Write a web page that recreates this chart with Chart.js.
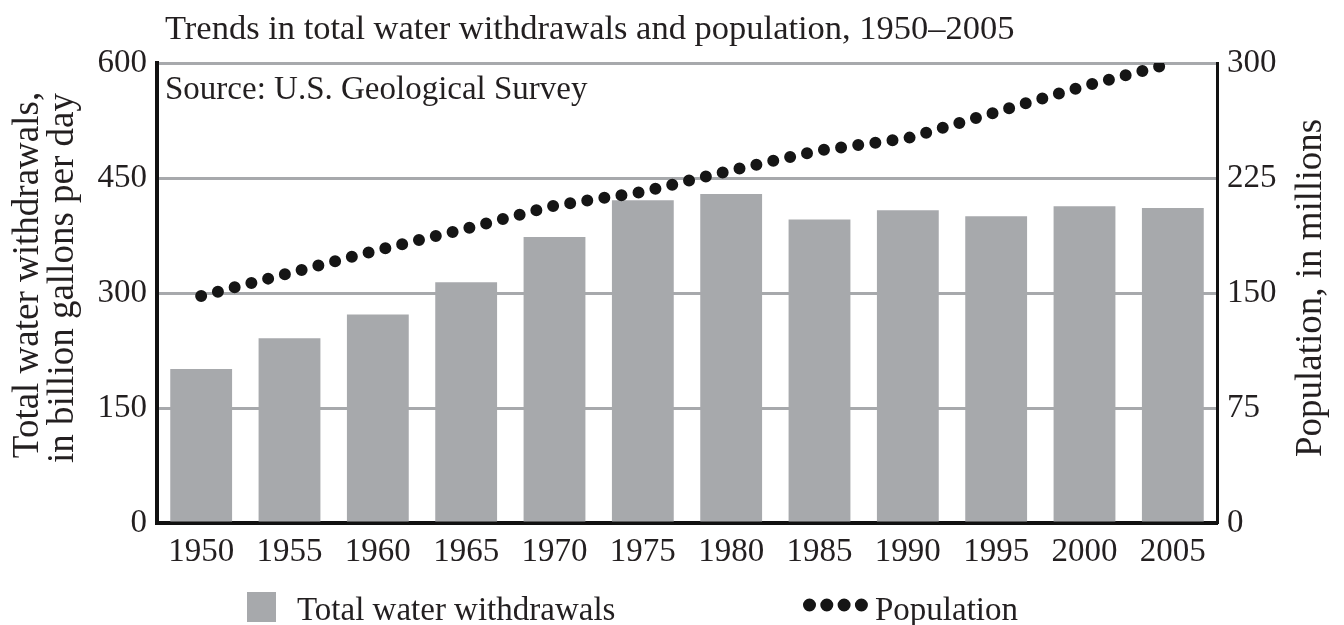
<!DOCTYPE html>
<html>
<head>
<meta charset="utf-8">
<title>Water withdrawals and population</title>
<script src="https://cdn.jsdelivr.net/npm/chart.js@4.4.1/dist/chart.umd.min.js"></script>
<style>
  html, body { margin: 0; padding: 0; background: #fff; }
  #wrap { width: 1344px; height: 625px; }
</style>
</head>
<body>
<div id="wrap"><canvas id="chart" width="1344" height="625"></canvas></div>
<script>
// Donnees
const years = ["1950", "1955", "1960", "1965", "1970", "1975", "1980", "1985", "1990", "1995", "2000", "2005"];
const withdrawals = [201, 241, 272, 314, 373, 421, 429, 396, 408, 400, 413, 411]; // milliards de gallons / jour
const population = [148, 163, 178, 192, 207, 216, 230, 243, 251, 268, 285, 300];  // millions
const leftMax = 600, leftStep = 150;
const rightMax = 300, rightStep = 75;

const titleText = "Trends in total water withdrawals and population, 1950\u20132005";
const sourceText = "Source: U.S. Geological Survey";
const leftTitle = ["Total water withdrawals,", "in billion gallons per day"];
const rightTitle = "Population, in millions";
const barLabel = "Total water withdrawals";
const lineLabel = "Population";

const FONT = '"Liberation Serif", "Times New Roman", serif';
const FS = 33;        // graduations, source, legende
const FS_TITLE = 34.5;
const FS_AXIS = 37;   // titres d'axes
const textColor = "#231f20";
const barColor = "#a7a9ac";
const dotColor = "#151515";
const dotDash = [0, 17.3];

Chart.defaults.font.family = FONT;
Chart.defaults.color = textColor;

// Titre, source, titres d'axes et legende dessines a la main
const decor = {
  id: "decor",
  afterDraw(chart) {
    const ctx = chart.ctx;
    const a = chart.chartArea;
    ctx.save();
    ctx.fillStyle = textColor;
    ctx.textBaseline = "alphabetic";
    ctx.textAlign = "left";
    ctx.font = FS_TITLE + "px " + FONT;
    ctx.fillText(titleText, a.left + 8, 39);
    ctx.font = FS + "px " + FONT;
    ctx.fillText(sourceText, a.left + 8, 99);

    // titres d'axes (lecture de bas en haut)
    ctx.font = FS_AXIS + "px " + FONT;
    ctx.textAlign = "center";
    const vertical = (txt, x, y) => {
      ctx.save();
      ctx.translate(x, y);
      ctx.rotate(-Math.PI / 2);
      ctx.fillText(txt, 0, 0);
      ctx.restore();
    };
    vertical(leftTitle[0], 38, 275);
    vertical(leftTitle[1], 73, 278);
    vertical(rightTitle, 1321, 288);

    // legende
    ctx.font = FS + "px " + FONT;
    ctx.textAlign = "left";
    ctx.fillStyle = barColor;
    ctx.fillRect(247, 592, 29, 30);
    ctx.fillStyle = textColor;
    ctx.fillText(barLabel, 297, 620);
    ctx.strokeStyle = dotColor;
    ctx.lineWidth = 13;
    ctx.lineCap = "round";
    ctx.setLineDash(dotDash);
    ctx.beginPath();
    ctx.moveTo(809.5, 605);
    ctx.lineTo(862, 605);
    ctx.stroke();
    ctx.setLineDash([]);
    ctx.fillText(lineLabel, 875, 620);
    ctx.restore();
  }
};

new Chart(document.getElementById("chart"), {
  type: "bar",
  data: {
    labels: years,
    datasets: [
      {
        type: "line",
        label: lineLabel,
        data: population,
        yAxisID: "y1",
        borderColor: dotColor,
        borderWidth: 12,
        borderDash: dotDash,
        borderCapStyle: "round",
        pointRadius: 0,
        tension: 0,
        fill: false,
        order: 1
      },
      {
        label: barLabel,
        data: withdrawals,
        yAxisID: "y",
        backgroundColor: barColor,
        borderWidth: 0,
        categoryPercentage: 1.0,
        barPercentage: 0.7,
        order: 2
      }
    ]
  },
  options: {
    responsive: false,
    animation: false,
    events: [],
    layout: { padding: { top: 63, right: 0, bottom: 0, left: 0 } },
    plugins: {
      legend: { display: false },
      title: { display: false },
      tooltip: { enabled: false }
    },
    scales: {
      x: {
        grid: { display: false },
        border: { display: true, color: "#111", width: 4 },
        ticks: { font: { size: FS }, color: textColor, padding: 2, maxRotation: 0 },
        afterFit(scale) { scale.height = 102; }
      },
      y: {
        position: "left",
        min: 0,
        max: leftMax,
        grid: { color: barColor, lineWidth: 3, drawTicks: false },
        border: { display: true, color: "#111", width: 4 },
        ticks: { stepSize: leftStep, font: { size: FS }, color: textColor, padding: 10 },
        afterFit(scale) { scale.width = 157; }
      },
      y1: {
        position: "right",
        min: 0,
        max: rightMax,
        grid: { drawOnChartArea: false, drawTicks: false },
        border: { display: true, color: "#111", width: 3 },
        ticks: { stepSize: rightStep, font: { size: FS }, color: textColor, padding: 10 },
        afterFit(scale) { scale.width = 127; }
      }
    }
  },
  plugins: [decor]
});
</script>
</body>
</html>
